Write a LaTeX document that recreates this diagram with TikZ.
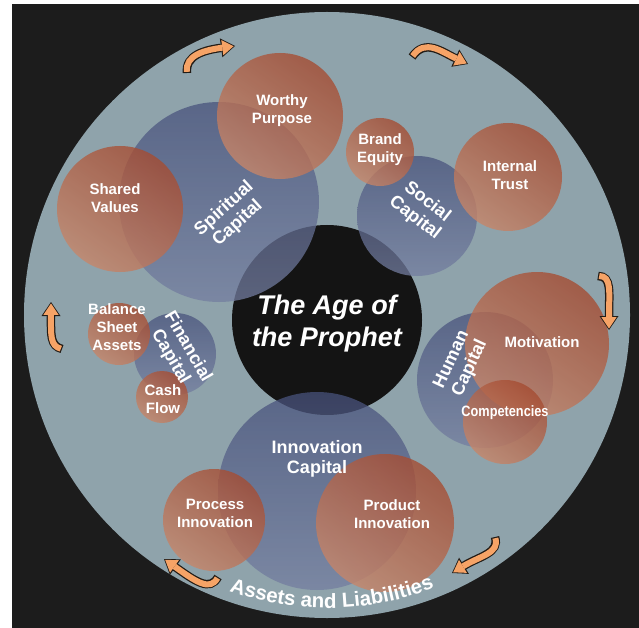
\documentclass[tikz,border=0pt]{standalone}
\usepackage{fontspec}
\setmainfont{Liberation Sans}
\usetikzlibrary{arrows.meta,decorations.text}

\definecolor{bgdark}{RGB}{28,28,28}
\definecolor{ringgrey}{RGB}{143,163,171}
\definecolor{capitaltop}{RGB}{72,82,124}
\definecolor{capitalbot}{RGB}{116,126,160}
\definecolor{assettop}{RGB}{165,76,50}
\definecolor{assetbot}{RGB}{198,134,106}
\definecolor{arrowfill}{RGB}{246,163,102}
\definecolor{arrowline}{RGB}{35,28,22}

\tikzset{
  capital/.style={circle, inner sep=0pt, top color=capitaltop, bottom color=capitalbot, fill opacity=0.75},
  asset/.style={circle, inner sep=0pt, top color=assettop, bottom color=assetbot, shading angle=-35, fill opacity=0.8},
  assetlbl/.style={text=white, align=center, inner sep=0pt, font=\bfseries\fontsize{15}{18}\selectfont},
  capitallbl/.style={text=white, align=center, inner sep=0pt, font=\bfseries\fontsize{18}{20}\selectfont},
  arrowedge/.style={line width=8.5, arrowline, -{Triangle[length=14pt,width=19pt,line width=0pt]}},
  arrowbody/.style={line width=6, arrowfill, shorten <=1.2pt, shorten >=1.4pt, -{Triangle[length=11.4pt,width=15.2pt,line width=0pt]}}
}

\newcommand\turnarrow[1]{%
  \draw[arrowedge] #1;
  \draw[arrowbody] #1;}

\begin{document}
\begin{tikzpicture}[x=1pt, y=-1pt]

\useasboundingbox (0,0) rectangle (639,628);
\fill[white] (0,0) rectangle (639,628);
\fill[bgdark] (12,4) rectangle (639,628);

\node[circle, fill=ringgrey, minimum size=606, inner sep=0pt] (ring) at (327,315) {};
\node[circle, fill=black!92, minimum size=190, inner sep=0pt] (prophet) at (327,320) {};

\node[capital, minimum size=200] (spirit) at (219,202) {};
\node[capital, minimum size=120] (social) at (417,216) {};
\node[capital, minimum size=136] (human) at (485,380) {};
\node[capital, minimum size=198] (innov) at (317,491) {};
\node[capital, minimum size=82] (finance) at (175,354) {};

\node[asset, minimum size=126] (worthy) at (280,116) {};
\node[asset, minimum size=126] (shared) at (120,209) {};
\node[asset, minimum size=68] (brand) at (380,152) {};
\node[asset, minimum size=108] (trust) at (508,177) {};
\node[asset, minimum size=144] (motiv) at (537,344) {};
\node[asset, minimum size=84] (compet) at (505,422) {};
\node[asset, minimum size=102] (process) at (214,520) {};
\node[asset, minimum size=138] (product) at (385,523) {};
\node[asset, minimum size=62] (balance) at (119,334) {};
\node[asset, minimum size=52] (cash) at (162,397) {};

\node[text=white, align=center, inner sep=0pt, font=\bfseries\itshape\fontsize{27}{32}\selectfont] (prophetlbl) at (327,324) {The Age of\\the Prophet};

\node[capitallbl, rotate=42] (spiritlbl) at (231,216) {Spiritual\\Capital};
\node[capitallbl, rotate=-38] (sociallbl) at (421,210) {Social\\Capital};
\node[capitallbl, rotate=65] (humanlbl) at (461,364) {Human\\Capital};
\node[capitallbl] (innovlbl) at (317,459) {Innovation\\Capital};
\node[capitallbl, rotate=-60] (financelbl) at (179,352) {Financial\\Capital};

\node[assetlbl] (worthylbl) at (282,111) {Worthy\\Purpose};
\node[assetlbl] (sharedlbl) at (115,198) {Shared\\Values};
\node[assetlbl] (brandlbl) at (380,150) {Brand\\Equity};
\node[assetlbl] (trustlbl) at (510,175) {Internal\\Trust};
\node[assetlbl] (motivlbl) at (542,342) {Motivation};
\node[assetlbl] (competlbl) at (505,413) {\scalebox{0.85}[1]{Competencies}};
\node[assetlbl] (processlbl) at (215,513) {Process\\Innovation};
\node[assetlbl] (productlbl) at (392,514) {Product\\Innovation};
\node[assetlbl] (balancelbl) at (117,327) {Balance\\Sheet\\Assets};
\node[assetlbl] (cashlbl) at (163,399) {Cash\\Flow};

\path[decorate, decoration={text along path, text align=center,
  text={|\bfseries\fontsize{20.5}{20.5}\selectfont\color{white}|Assets and Liabilities}}]
  (ring.center) ++(149:293) arc[start angle=149, end angle=29, radius=293];

\turnarrow{(187,73) .. controls (185,55) and (205,50) .. (235,46)}
\turnarrow{(412,57) .. controls (425,38) and (442,52) .. (468,64)}
\turnarrow{(598,276) .. controls (612,276) and (609,292) .. (609,330)}
\turnarrow{(495,537) .. controls (500,553) and (480,556) .. (452,573)}
\turnarrow{(218,577) .. controls (210,592) and (195,581) .. (164,559)}
\turnarrow{(62,349) .. controls (50,346) and (51,335) .. (51,302)}

\end{tikzpicture}
\end{document}
